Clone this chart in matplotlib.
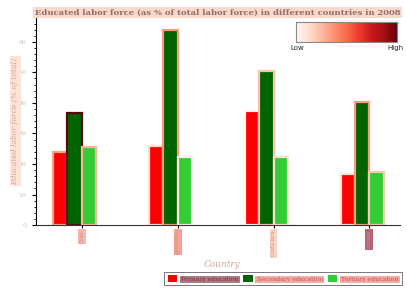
import matplotlib
matplotlib.use("Agg")
import matplotlib.pyplot as plt
import numpy as np
from matplotlib.patches import Patch

countries = ["Chile", "Colombia", "Costa Rica", "Croatia"]
primary = [24.0, 26.0, 37.5, 16.8]
secondary = [36.7, 64.0, 50.3, 40.3]
tertiary = [25.7, 22.3, 22.3, 17.5]
series_names = ["Primary education", "Secondary education", "Tertiary education"]
series_colors = ["#ff0000", "#006400", "#32cd32"]
edge_colors = [
    ["#f4a582", "#5a0810", "#f9b49c"],
    ["#fde0d4", "#f79a7c", "#fff0ea"],
    ["#fff3ee", "#fcc2ac", "#fde0d4"],
    ["#fde4da", "#f7a080", "#fcc8b4"],
]
tick_bg = ["#f6b6ac", "#f6a292", "#fbd2c4", "#b86472"]
legend_bg = ["#b07882", "#f7aaa2", "#f7aaa2"]
legend_fg = ["#6a3a44", "#b05a58", "#b05a58"]

fig = plt.figure(figsize=(4.07, 2.90), dpi=100)
ax = fig.add_axes([0.088, 0.224, 0.895, 0.716])

x = np.arange(len(countries))
w = 0.15
offsets = [-2 * w, -w, 0]
data = [primary, secondary, tertiary]
for s in range(3):
    for i in range(len(countries)):
        ax.bar(x[i] + offsets[s], data[s][i], width=w, align="edge",
               color=series_colors[s], edgecolor=edge_colors[i][s], linewidth=1.6, zorder=2)

ax.set_xlim(-0.48, 3.32)
ax.set_ylim(0, 68)
ax.set_yticks(np.arange(0, 61, 10))
ax.set_yticks(np.arange(0, 68, 2), minor=True)
ax.tick_params(axis="y", which="major", length=3, labelsize=4.5, labelcolor="#c8c0bc")
ax.tick_params(axis="y", which="minor", length=1.5)
for lab in ax.get_yticklabels():
    lab.set_family("DejaVu Serif")
ax.set_xticks(x)
ax.set_xticklabels(countries, rotation=90, fontsize=3.5, family="DejaVu Sans", color="#c09890")
for lab, bg in zip(ax.get_xticklabels(), tick_bg):
    lab.set_bbox(dict(facecolor=bg, edgecolor="none", pad=1.0))
ax.tick_params(axis="x", length=2, pad=2)
ax.spines["top"].set_visible(False)
ax.spines["right"].set_visible(False)
ax.spines["bottom"].set_color("#333333")
ax.spines["bottom"].set_linewidth(0.8)

ax.set_ylabel("Educated labor force (% of total)", family="DejaVu Serif", style="italic",
              fontsize=5.5, color="#d0aa9c",
              bbox=dict(facecolor="#fde4da", edgecolor="none", pad=1.0))
ax.yaxis.set_label_coords(-0.045, 0.5)
ax.set_xlabel("Country", family="DejaVu Serif", style="italic", fontsize=6.5, color="#d4a898")
ax.xaxis.set_label_coords(0.51, -0.17)

fig.text(0.534, 0.957, "Educated labor force (as % of total labor force) in different countries in 2008",
         ha="center", va="center", family="DejaVu Serif", weight="bold", fontsize=6.0,
         color="#8a7068", bbox=dict(facecolor="#fcd8cc", edgecolor="none", pad=1.2))

handles = [Patch(facecolor=c, edgecolor="none") for c in series_colors]
leg = fig.legend(handles, series_names, loc="lower right", bbox_to_anchor=(0.995, 0.005), ncol=3,
                 frameon=True, fancybox=False, edgecolor="#555555",
                 handlelength=1.5, handleheight=1.3, columnspacing=0.8, handletextpad=0.6,
                 borderpad=0.55, prop={"family": "DejaVu Serif", "size": 4.5})
leg.get_frame().set_linewidth(0.7)
for t, bg, fg in zip(leg.get_texts(), legend_bg, legend_fg):
    t.set_color(fg)
    t.set_bbox(dict(facecolor=bg, edgecolor="none", pad=0.8))

cax = fig.add_axes([296 / 407, 1 - 42 / 290, 101 / 407, 20 / 290])
grad = np.linspace(0, 1, 256).reshape(1, -1)
cax.imshow(grad, aspect="auto", cmap="Reds", extent=[0, 1, 0, 1])
cax.set_xticks([])
cax.set_yticks([])
for sp in cax.spines.values():
    sp.set_color("#888888")
    sp.set_linewidth(0.8)
fig.text(297 / 407, 1 - 48 / 290, "Low", ha="center", va="center", fontsize=5, color="#222222")
fig.text(395 / 407, 1 - 48 / 290, "High", ha="center", va="center", fontsize=5, color="#222222")

fig.savefig("out.png", dpi=100)
